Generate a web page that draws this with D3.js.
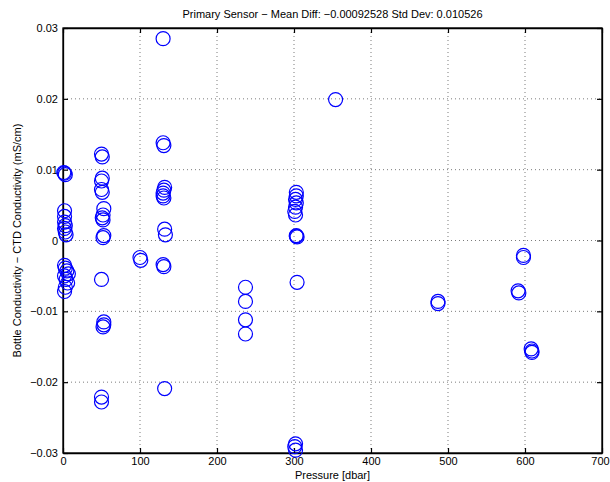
<!DOCTYPE html>
<html><head><meta charset="utf-8">
<script src="https://cdn.jsdelivr.net/npm/d3@7"></script>
<style>body{margin:0;background:#fff}svg{display:block}text{font-family:"Liberation Sans",Arial,sans-serif}</style>
</head><body>
<script>
const titleText = "Primary Sensor \u2212 Mean Diff: \u22120.00092528 Std Dev: 0.010526";
const xLabel = "Pressure [dbar]";
const yLabel = "Bottle Conductivity  \u2212 CTD Conductivity (mS/cm)";
const xTicks = [0,100,200,300,400,500,600,700];
const yTicks = [-0.03,-0.02,-0.01,0,0.01,0.02,0.03];
const yTickLabels = ["\u22120.03","\u22120.02","\u22120.01","0","0.01","0.02","0.03"];
const pressure = [
  2,3,1, 2,2,2,3,2,3,4, 2,3,5,7,2,4,6,3,2,
  50,51,51,50,50,51,53,52,51,52,53,52,50,53,53,52,50,50,
  100,101,
  130,130,131,132,131,130,130,131,132,133,130,131,132,
  237,237,237,237,
  303,303,302,303,302,301,302,303,303,304,304,302,301,302,
  354,
  487,487,
  591,592,
  598,598,
  608,609,609
];
const condDiff = [
  0.0095,0.0093,0.0096, 0.0042,0.0034,0.0026,0.0021,0.0017,0.0012,0.0008, -0.0035,-0.0039,-0.0043,-0.0047,-0.0050,-0.0055,-0.0060,-0.0066,-0.0072,
  0.0122,0.0118,0.0088,0.0084,0.0072,0.0068,0.0045,0.0036,0.0032,0.0029,0.0007,0.0004,-0.0055,-0.0115,-0.0119,-0.0122,-0.0221,-0.0228,
  -0.0024,-0.0028,
  0.0285,0.0138,0.0134,0.0075,0.0071,0.0067,0.0063,0.0060,0.0016,0.0008,-0.0034,-0.0037,-0.0209,
  -0.0066,-0.0086,-0.0112,-0.0132,
  0.0068,0.0063,0.0058,0.0053,0.0047,0.0041,0.0036,0.0007,0.0006,0.0005,-0.0059,-0.0287,-0.0291,-0.0296,
  0.0199,
  -0.0086,-0.0089,
  -0.0071,-0.0074,
  -0.0021,-0.0024,
  -0.0153,-0.0156,-0.0158
];

const W=610,H=482, L=63, R=602, T=28, B=453;
const svg=d3.select("body").append("svg").attr("width",W).attr("height",H);
const x=d3.scaleLinear().domain([0,700]).range([L,R]);
const y=d3.scaleLinear().domain([-0.03,0.03]).range([B,T]);

// grid
const g=svg.append("g");
xTicks.slice(1,-1).forEach(t=>g.append("line").attr("x1",x(t)).attr("x2",x(t)).attr("y1",T).attr("y2",B)
  .attr("stroke","#444").attr("stroke-width",0.7).attr("stroke-dasharray","1,3"));
yTicks.slice(1,-1).forEach(t=>g.append("line").attr("y1",y(t)).attr("y2",y(t)).attr("x1",L).attr("x2",R)
  .attr("stroke","#444").attr("stroke-width",0.7).attr("stroke-dasharray","1,3"));

// axes
const fmtY = d => yTickLabels[yTicks.indexOf(d)];
const axB=svg.append("g").attr("transform",`translate(0,${B})`).call(d3.axisBottom(x).tickValues(xTicks).tickSizeInner(-5).tickSizeOuter(0).tickPadding(4));
const axT=svg.append("g").attr("transform",`translate(0,${T})`).call(d3.axisTop(x).tickValues(xTicks).tickSizeInner(-5).tickSizeOuter(0).tickFormat(""));
const axL=svg.append("g").attr("transform",`translate(${L},0)`).call(d3.axisLeft(y).tickValues(yTicks).tickFormat(fmtY).tickSizeInner(-5).tickSizeOuter(0).tickPadding(5));
const axR=svg.append("g").attr("transform",`translate(${R},0)`).call(d3.axisRight(y).tickValues(yTicks).tickSizeInner(-5).tickSizeOuter(0).tickFormat(""));
[axB,axT,axL,axR].forEach(a=>{a.selectAll("path").attr("stroke","#000").attr("stroke-width",1.3);
  a.selectAll("line").attr("stroke","#000").attr("stroke-width",1.2);
  a.selectAll("text").attr("fill","#000").style("font-size","11px").style("font-family","'Liberation Sans',Arial,sans-serif");});
axB.selectAll(".tick text").filter(d=>d===700).attr("dx","-2px");
svg.append("rect").attr("x",L).attr("y",T).attr("width",R-L).attr("height",B-T).attr("fill","none").attr("stroke","#000").attr("stroke-width",1.3);

// points
svg.append("g").selectAll("circle").data(pressure.map((p,i)=>[p,condDiff[i]])).join("circle")
  .attr("cx",d=>x(d[0])).attr("cy",d=>y(d[1])).attr("r",7)
  .attr("fill","none").attr("stroke","#0000ff").attr("stroke-width",1.2);

// labels
svg.append("text").attr("x",(L+R)/2).attr("y",18).attr("text-anchor","middle").style("font-size","11px").text(titleText);
svg.append("text").attr("x",(L+R)/2).attr("y",479).attr("text-anchor","middle").style("font-size","11px").text(xLabel);
svg.append("text").attr("transform",`translate(21,${(T+B)/2}) rotate(-90)`).attr("text-anchor","middle").style("font-size","11px").text(yLabel);
</script>
</body></html>
